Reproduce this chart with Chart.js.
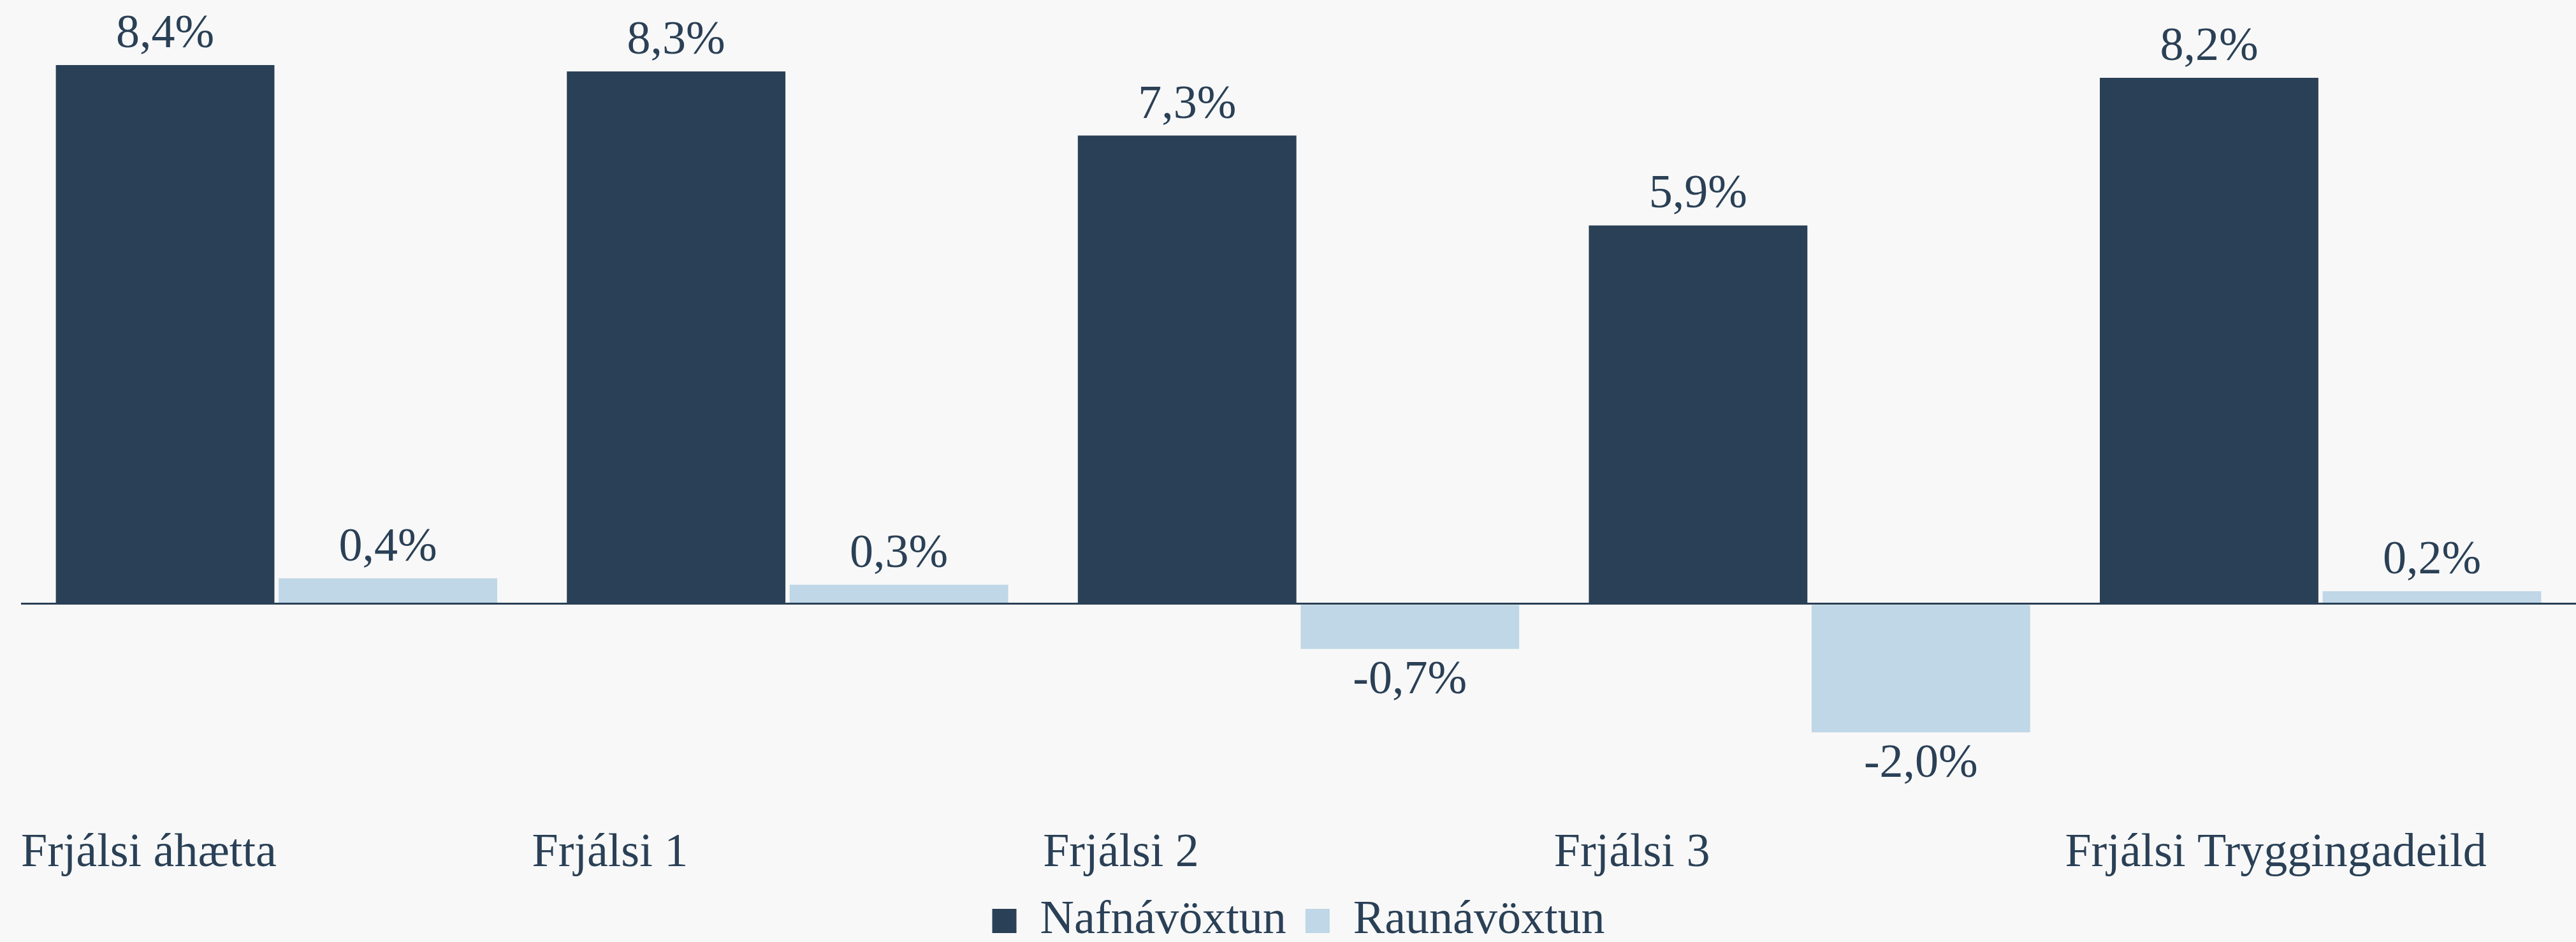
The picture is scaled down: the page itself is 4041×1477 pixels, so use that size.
<!DOCTYPE html>
<html>
<head>
<meta charset="utf-8">
<script src="https://cdn.jsdelivr.net/npm/chart.js@4/dist/chart.umd.min.js"></script>
<style>
  html, body { margin: 0; padding: 0; background: #f8f8f8; overflow: hidden; }
  canvas { display: block; }
</style>
</head>
<body>
<canvas id="c" width="4041" height="1477"></canvas>
<script>
const categories = ["Frjálsi áhætta", "Frjálsi 1", "Frjálsi 2", "Frjálsi 3", "Frjálsi Tryggingadeild"];
const seriesNames = ["Nafnávöxtun", "Raunávöxtun"];
const nafnavoxtun = [8.4, 8.3, 7.3, 5.9, 8.2];
const raunavoxtun = [0.4, 0.3, -0.7, -2.0, 0.2];

const DARK = '#2a4056';
const LIGHT = '#bfd7e6';
const TEXT = '#2a4056';
const FONT = "'Liberation Serif', 'Times New Roman', serif";

const valueLabels = {
  id: 'valueLabels',
  afterDatasetsDraw(chart) {
    const ctx = chart.ctx;
    ctx.save();
    ctx.font = '74px ' + FONT;
    ctx.fillStyle = TEXT;
    ctx.textAlign = 'center';
    ctx.textBaseline = 'alphabetic';
    chart.data.datasets.forEach((ds, di) => {
      const meta = chart.getDatasetMeta(di);
      meta.data.forEach((el, i) => {
        const v = ds.data[i];
        const txt = v.toFixed(1).replace('.', ',') + '%';
        const y = v >= 0 ? el.y - 28 : el.y + 70;
        ctx.fillText(txt, el.x, y);
      });
    });
    ctx.restore();
  }
};

Chart.defaults.font.family = FONT;
Chart.defaults.color = TEXT;

new Chart(document.getElementById('c'), {
  type: 'bar',
  data: {
    labels: categories,
    datasets: [
      { label: seriesNames[0], data: nafnavoxtun, backgroundColor: DARK, borderWidth: 0,
        categoryPercentage: 0.872, barPercentage: 0.981 },
      { label: seriesNames[1], data: raunavoxtun, backgroundColor: LIGHT, borderWidth: 0,
        categoryPercentage: 0.872, barPercentage: 0.981 }
    ]
  },
  options: {
    responsive: false,
    devicePixelRatio: 1,
    animation: false,
    layout: {
      autoPadding: false,
      padding: { top: 41.6, left: 33, right: 0, bottom: -14 }
    },
    plugins: {
      legend: {
        position: 'bottom',
        labels: {
          font: { size: 74, family: FONT },
          color: TEXT,
          boxWidth: 38,
          boxHeight: 38,
          padding: 30
        }
      },
      tooltip: { enabled: false },
      title: { display: false }
    },
    scales: {
      x: {
        grid: { display: false, drawTicks: false },
        border: { display: false },
        afterFit: (scale) => { scale.paddingLeft = 0; scale.paddingRight = 0; },
        ticks: {
          font: { size: 74, lineHeight: 1.05, family: FONT },
          color: TEXT,
          align: 'start',
          labelOffset: -400.8,
          padding: 0,
          maxRotation: 0,
          minRotation: 0,
          autoSkip: false
        }
      },
      y: {
        min: -3.502,
        max: 9,
        afterBuildTicks: (scale) => { scale.ticks = [{ value: 0 }]; },
        ticks: { display: false },
        border: { display: false },
        grid: {
          drawTicks: false,
          z: 1,
          lineWidth: (c) => (c.tick && c.tick.value === 0 ? 3 : 0),
          color: (c) => (c.tick && c.tick.value === 0 ? DARK : 'rgba(0,0,0,0)')
        }
      }
    }
  },
  plugins: [valueLabels]
});
</script>
</body>
</html>
